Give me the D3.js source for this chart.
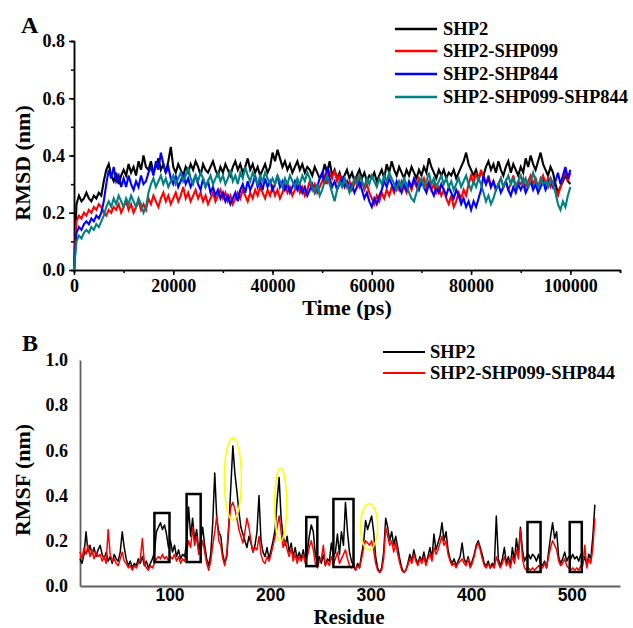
<!DOCTYPE html>
<html><head><meta charset="utf-8">
<script src="https://cdn.jsdelivr.net/npm/d3@7"></script>
<style>html,body{margin:0;padding:0;background:#fff}svg{display:block}</style>
</head><body>
<script>
// ---------- Panel A data: RMSD (nm) sampled every 500 ps ----------
const rmsdTimeStep = 500;
const rmsdSHP2 = [
0.00,0.23,0.26,0.24,0.25,0.27,0.25,0.24,0.26,0.25,0.27,0.26,0.31,0.35,0.37,0.33,0.31,0.34,0.30,0.33,
0.35,0.33,0.37,0.34,0.36,0.33,0.38,0.35,0.40,0.36,0.35,0.38,0.34,0.36,0.39,0.35,0.37,0.34,0.38,0.43,
0.36,0.34,0.37,0.35,0.33,0.36,0.34,0.37,0.35,0.38,0.36,0.33,0.37,0.35,0.34,0.36,0.38,0.35,0.33,0.36,
0.34,0.37,0.35,0.33,0.36,0.38,0.35,0.37,0.34,0.36,0.39,0.35,0.37,0.34,0.36,0.33,0.35,0.37,0.34,0.36,
0.41,0.38,0.42,0.39,0.36,0.38,0.35,0.37,0.34,0.36,0.38,0.35,0.37,0.34,0.36,0.35,0.33,0.36,0.34,0.32,
0.33,0.37,0.34,0.38,0.33,0.35,0.32,0.34,0.31,0.33,0.35,0.32,0.34,0.31,0.33,0.35,0.32,0.34,0.31,0.33,
0.32,0.34,0.31,0.33,0.35,0.32,0.37,0.34,0.38,0.35,0.33,0.36,0.34,0.32,0.35,0.33,0.36,0.34,0.32,0.35,
0.33,0.36,0.34,0.39,0.36,0.34,0.32,0.35,0.33,0.35,0.32,0.34,0.33,0.35,0.32,0.34,0.36,0.38,0.41,0.37,
0.35,0.33,0.35,0.32,0.34,0.33,0.36,0.38,0.35,0.37,0.34,0.38,0.35,0.33,0.36,0.38,0.34,0.37,0.35,0.33,
0.36,0.34,0.39,0.36,0.40,0.37,0.35,0.38,0.41,0.37,0.35,0.33,0.36,0.34,0.30,0.27,0.29,0.31,0.33,0.31,0.30];
const rmsdSHP099 = [
0.00,0.17,0.19,0.18,0.20,0.19,0.21,0.20,0.22,0.21,0.23,0.22,0.20,0.19,0.21,0.20,0.22,0.21,0.23,0.20,
0.22,0.24,0.21,0.23,0.20,0.22,0.24,0.21,0.23,0.21,0.25,0.23,0.26,0.24,0.22,0.25,0.27,0.24,0.26,0.23,
0.25,0.27,0.24,0.26,0.29,0.25,0.27,0.24,0.26,0.28,0.25,0.27,0.24,0.26,0.23,0.25,0.27,0.24,0.26,0.28,
0.25,0.27,0.24,0.26,0.23,0.25,0.27,0.25,0.28,0.26,0.24,0.27,0.25,0.28,0.26,0.29,0.27,0.25,0.28,0.26,
0.29,0.26,0.28,0.25,0.27,0.30,0.27,0.29,0.26,0.28,0.30,0.27,0.29,0.26,0.28,0.31,0.28,0.30,0.27,0.29,
0.31,0.33,0.30,0.34,0.32,0.35,0.31,0.33,0.30,0.32,0.29,0.31,0.28,0.30,0.32,0.29,0.31,0.28,0.30,0.27,
0.25,0.23,0.26,0.24,0.27,0.25,0.28,0.26,0.29,0.27,0.30,0.28,0.31,0.29,0.27,0.30,0.28,0.31,0.29,0.32,
0.30,0.32,0.29,0.31,0.28,0.30,0.27,0.29,0.26,0.28,0.25,0.23,0.26,0.22,0.24,0.27,0.25,0.28,0.26,0.30,
0.33,0.30,0.34,0.31,0.35,0.32,0.30,0.33,0.29,0.31,0.28,0.30,0.32,0.29,0.31,0.28,0.30,0.33,0.29,0.31,
0.30,0.32,0.29,0.31,0.33,0.30,0.32,0.29,0.31,0.33,0.30,0.32,0.29,0.31,0.28,0.26,0.29,0.32,0.35,0.31,0.34];
const rmsdSHP844 = [
0.00,0.13,0.15,0.14,0.16,0.17,0.16,0.18,0.17,0.19,0.18,0.20,0.24,0.30,0.35,0.32,0.36,0.31,0.33,0.29,
0.32,0.29,0.33,0.30,0.28,0.31,0.29,0.33,0.30,0.31,0.34,0.36,0.33,0.38,0.35,0.41,0.37,0.34,0.36,0.32,
0.30,0.33,0.29,0.31,0.34,0.30,0.32,0.29,0.31,0.33,0.30,0.28,0.32,0.29,0.31,0.27,0.29,0.26,0.28,0.25,
0.27,0.24,0.26,0.23,0.25,0.27,0.24,0.28,0.30,0.27,0.31,0.28,0.30,0.33,0.29,0.31,0.28,0.32,0.29,0.31,
0.28,0.30,0.33,0.29,0.31,0.28,0.30,0.27,0.29,0.31,0.28,0.30,0.27,0.29,0.26,0.28,0.30,0.27,0.29,0.32,
0.34,0.30,0.36,0.32,0.29,0.31,0.28,0.30,0.32,0.29,0.31,0.28,0.30,0.27,0.29,0.31,0.28,0.25,0.27,0.24,
0.22,0.25,0.23,0.26,0.28,0.31,0.29,0.32,0.30,0.28,0.31,0.29,0.27,0.30,0.28,0.31,0.29,0.32,0.30,0.28,
0.31,0.29,0.27,0.30,0.28,0.26,0.29,0.27,0.30,0.28,0.26,0.29,0.27,0.25,0.28,0.26,0.23,0.25,0.22,0.24,
0.21,0.24,0.22,0.25,0.28,0.33,0.30,0.32,0.29,0.31,0.28,0.30,0.27,0.29,0.31,0.28,0.26,0.29,0.27,0.30,
0.28,0.30,0.27,0.29,0.31,0.28,0.30,0.27,0.29,0.31,0.28,0.30,0.32,0.29,0.31,0.34,0.30,0.33,0.36,0.32,0.35];
const rmsdBoth = [
0.00,0.10,0.12,0.11,0.13,0.14,0.13,0.15,0.14,0.16,0.15,0.17,0.19,0.22,0.24,0.22,0.25,0.23,0.26,0.24,
0.22,0.25,0.23,0.26,0.24,0.22,0.25,0.23,0.20,0.22,0.27,0.30,0.32,0.29,0.31,0.33,0.30,0.32,0.29,0.31,
0.33,0.30,0.32,0.34,0.31,0.33,0.36,0.32,0.30,0.33,0.31,0.34,0.32,0.29,0.31,0.33,0.30,0.32,0.34,0.31,
0.33,0.30,0.32,0.35,0.31,0.33,0.30,0.34,0.32,0.36,0.33,0.31,0.34,0.32,0.30,0.33,0.31,0.34,0.32,0.30,
0.32,0.30,0.33,0.31,0.29,0.32,0.30,0.33,0.31,0.29,0.32,0.30,0.33,0.31,0.34,0.32,0.29,0.27,0.30,0.26,
0.28,0.31,0.33,0.30,0.27,0.24,0.28,0.31,0.29,0.32,0.30,0.27,0.29,0.32,0.30,0.33,0.31,0.29,0.32,0.30,
0.33,0.31,0.29,0.32,0.30,0.33,0.31,0.34,0.32,0.30,0.28,0.31,0.29,0.32,0.30,0.27,0.25,0.24,0.27,0.30,
0.32,0.29,0.31,0.34,0.30,0.32,0.29,0.31,0.33,0.30,0.32,0.29,0.31,0.28,0.30,0.32,0.29,0.31,0.33,0.30,
0.28,0.31,0.29,0.32,0.30,0.27,0.24,0.26,0.23,0.25,0.28,0.30,0.32,0.29,0.31,0.33,0.30,0.32,0.29,0.31,
0.33,0.30,0.32,0.29,0.31,0.34,0.31,0.29,0.32,0.30,0.31,0.29,0.32,0.30,0.27,0.23,0.21,0.24,0.22,0.26,0.29];
const rmsdNames = ["SHP2","SHP2-SHP099","SHP2-SHP844","SHP2-SHP099-SHP844"];
const rmsdColors = ["#000000","#ff0000","#0000ff","#008080"];
const xTicksA = [0,20000,40000,60000,80000,100000];
const yTicksA = [0,0.2,0.4,0.6,0.8];

// ---------- Panel B data: RMSF (nm), every 2nd residue from 11 ----------
const rmsfStartResidue = 11, rmsfResidueStep = 2;
const rmsfSHP2 = [
0.12,0.10,0.14,0.24,0.15,0.18,0.14,0.17,0.13,0.16,
0.18,0.14,0.12,0.15,0.11,0.13,0.10,0.14,0.12,0.11,
0.15,0.24,0.17,0.12,0.09,0.11,0.08,0.10,0.09,0.12,
0.10,0.13,0.09,0.11,0.08,0.10,0.12,0.15,0.24,0.26,
0.28,0.25,0.27,0.23,0.17,0.20,0.15,0.18,0.13,0.16,
0.12,0.14,0.13,0.19,0.35,0.22,0.30,0.20,0.25,0.16,
0.20,0.26,0.18,0.12,0.09,0.14,0.28,0.50,0.30,0.24,
0.22,0.14,0.10,0.13,0.26,0.44,0.62,0.50,0.42,0.33,
0.26,0.23,0.20,0.17,0.22,0.19,0.15,0.18,0.24,0.40,
0.20,0.15,0.13,0.17,0.12,0.16,0.20,0.25,0.38,0.48,
0.30,0.22,0.18,0.22,0.15,0.19,0.13,0.17,0.12,0.15,
0.12,0.16,0.11,0.15,0.22,0.27,0.24,0.14,0.10,0.13,
0.10,0.14,0.09,0.12,0.11,0.19,0.13,0.15,0.23,0.14,
0.24,0.18,0.37,0.24,0.15,0.11,0.09,0.07,0.10,0.08,
0.14,0.19,0.29,0.25,0.28,0.31,0.24,0.13,0.08,0.06,
0.08,0.15,0.30,0.26,0.20,0.24,0.18,0.22,0.17,0.12,
0.08,0.06,0.07,0.10,0.14,0.11,0.16,0.12,0.10,0.13,
0.11,0.15,0.10,0.13,0.17,0.12,0.23,0.16,0.19,0.22,
0.28,0.20,0.24,0.16,0.12,0.10,0.12,0.09,0.11,0.13,
0.19,0.12,0.10,0.13,0.09,0.11,0.14,0.18,0.20,0.17,
0.14,0.10,0.09,0.11,0.08,0.10,0.09,0.31,0.12,0.09,
0.12,0.17,0.10,0.13,0.09,0.17,0.11,0.21,0.14,0.26,
0.16,0.11,0.13,0.14,0.12,0.14,0.13,0.11,0.14,0.10,
0.09,0.11,0.08,0.15,0.22,0.28,0.21,0.24,0.13,0.10,
0.12,0.15,0.11,0.13,0.12,0.14,0.12,0.13,0.11,0.14,
0.10,0.13,0.09,0.14,0.12,0.22,0.36];
const rmsfComplex = [
0.15,0.12,0.17,0.14,0.18,0.13,0.16,0.12,0.15,0.13,
0.14,0.11,0.13,0.10,0.25,0.14,0.11,0.12,0.10,0.09,
0.12,0.15,0.11,0.10,0.08,0.09,0.07,0.09,0.08,0.10,
0.12,0.21,0.10,0.08,0.07,0.09,0.08,0.10,0.12,0.13,
0.12,0.14,0.12,0.13,0.11,0.13,0.12,0.14,0.11,0.13,
0.10,0.12,0.11,0.15,0.20,0.17,0.26,0.18,0.22,0.14,
0.16,0.20,0.15,0.10,0.07,0.11,0.18,0.24,0.31,0.20,
0.18,0.12,0.09,0.15,0.28,0.35,0.37,0.34,0.30,0.25,
0.22,0.19,0.24,0.30,0.26,0.20,0.15,0.17,0.16,0.22,
0.14,0.11,0.10,0.13,0.11,0.14,0.18,0.22,0.26,0.31,
0.24,0.17,0.20,0.16,0.13,0.17,0.11,0.14,0.10,0.13,
0.11,0.14,0.10,0.13,0.17,0.20,0.16,0.10,0.08,0.11,
0.12,0.18,0.09,0.11,0.09,0.13,0.10,0.12,0.15,0.10,
0.12,0.14,0.16,0.12,0.09,0.08,0.10,0.07,0.09,0.08,
0.12,0.17,0.20,0.19,0.18,0.20,0.16,0.10,0.07,0.06,
0.07,0.12,0.26,0.22,0.18,0.20,0.15,0.19,0.14,0.10,
0.07,0.06,0.07,0.09,0.12,0.10,0.14,0.11,0.09,0.12,
0.10,0.13,0.09,0.12,0.14,0.11,0.17,0.14,0.16,0.19,
0.22,0.18,0.20,0.14,0.11,0.09,0.10,0.08,0.10,0.11,
0.12,0.10,0.09,0.12,0.08,0.10,0.13,0.17,0.19,0.16,
0.12,0.09,0.08,0.10,0.08,0.09,0.08,0.13,0.10,0.08,
0.10,0.13,0.09,0.11,0.08,0.13,0.10,0.16,0.12,0.25,
0.12,0.08,0.07,0.08,0.07,0.08,0.07,0.08,0.09,0.08,
0.08,0.10,0.08,0.13,0.17,0.20,0.18,0.16,0.11,0.09,
0.10,0.12,0.09,0.08,0.07,0.08,0.07,0.08,0.07,0.09,
0.09,0.18,0.08,0.12,0.10,0.17,0.30];
const rmsfNames = ["SHP2","SHP2-SHP099-SHP844"];
const rmsfColors = ["#000000","#ff0000"];
const xTicksB = [100,200,300,400,500];
const yTicksB = [0,0.2,0.4,0.6,0.8,1.0];
// annotation boxes: [residueFrom, residueTo, rmsfLow, rmsfHigh]
const boxRegions = [[85,100,0.106,0.323],[117,131,0.106,0.407],[236,247,0.088,0.305],
                    [263,283,0.084,0.385],[456,469,0.062,0.283],[498,510,0.062,0.283]];
// annotation ellipses: [centerResidue, centerRmsf, halfWidthResidues, halfHeightRmsf]
const ellipseRegions = [[163,0.473,8.5,0.182],[210.5,0.36,6,0.162],[298.5,0.262,8.5,0.102]];

// ---------- drawing ----------
const W = 633, H = 628;
const serif = "'Times New Roman','Liberation Serif',serif";
const sans = "Arial,'Liberation Sans',sans-serif";
const svg = d3.select("body").append("svg").attr("width", W).attr("height", H);

// Panel A
const xA = d3.scaleLinear().domain([0, 110000]).range([74, 620]);
const yA = d3.scaleLinear().domain([0, 0.8]).range([270, 41]);
const gA = svg.append("g");

const minorX = gA.append("g").attr("transform", `translate(0,${yA(0)})`)
  .call(d3.axisBottom(xA).tickValues(d3.range(0, 110001, 10000)).tickSize(3).tickFormat(""));
const minorY = gA.append("g").attr("transform", `translate(${xA(0)},0)`)
  .call(d3.axisLeft(yA).tickValues(d3.range(0, 0.81, 0.1)).tickSize(3).tickFormat(""));
const axXA = gA.append("g").attr("transform", `translate(0,${yA(0)})`)
  .call(d3.axisBottom(xA).tickValues(xTicksA).tickSize(5).tickSizeOuter(0).tickPadding(4).tickFormat(d3.format("d")));
const axYA = gA.append("g").attr("transform", `translate(${xA(0)},0)`)
  .call(d3.axisLeft(yA).tickValues(yTicksA).tickSize(5).tickSizeOuter(0).tickPadding(4).tickFormat(d3.format(".1f")));
[minorX, minorY, axXA, axYA].forEach(a => {
  a.selectAll("path,line").attr("stroke", "#000").attr("stroke-width", 1.5);
  a.selectAll("text").attr("fill", "#000").style("font-family", serif).style("font-weight", "bold").style("font-size", "18px");
});

const seriesA = [rmsdSHP2, rmsdSHP099, rmsdSHP844, rmsdBoth];
const lineA = d3.line().x((d, i) => xA(i * rmsdTimeStep)).y(d => yA(d));
seriesA.forEach((s, k) => {
  gA.append("path").datum(s).attr("d", lineA).attr("fill", "none")
    .attr("stroke", rmsdColors[k]).attr("stroke-width", 2.1).attr("stroke-linejoin", "miter");
});

gA.append("text").attr("x", 21).attr("y", 33).text("A")
  .style("font-family", serif).style("font-weight", "bold").style("font-size", "24px");
gA.append("text").attr("x", 347).attr("y", 315).attr("text-anchor", "middle").text("Time (ps)")
  .style("font-family", serif).style("font-weight", "bold").style("font-size", "22px");
gA.append("text").attr("transform", "translate(30,163) rotate(-90)").attr("text-anchor", "middle").text("RMSD (nm)")
  .style("font-family", serif).style("font-weight", "bold").style("font-size", "22px");

const legA = gA.append("g");
const legRowsA = [29, 51, 74, 97];
rmsdNames.forEach((n, k) => {
  legA.append("line").attr("x1", 395).attr("x2", 437).attr("y1", legRowsA[k]).attr("y2", legRowsA[k])
    .attr("stroke", rmsdColors[k]).attr("stroke-width", 2.5);
  legA.append("text").attr("x", 443).attr("y", legRowsA[k]).attr("dy", "0.35em").text(n)
    .style("font-family", serif).style("font-weight", "bold").style("font-size", "18.5px");
});

// Panel B
const xB = d3.scaleLinear().domain([11, 548]).range([80, 620]);
const yB = d3.scaleLinear().domain([0, 1.0]).range([586, 360]);
const gB = svg.append("g");

const axXB = gB.append("g").attr("transform", `translate(0,${yB(0)})`)
  .call(d3.axisBottom(xB).tickValues(xTicksB).tickSize(0).tickSizeOuter(0).tickPadding(3).tickFormat(d3.format("d")));
axXB.selectAll("text").style("font-family", sans).style("font-weight", "bold").style("font-size", "17.5px").attr("fill", "#000");
const axYB = gB.append("g").attr("transform", `translate(${xB(11)},0)`)
  .call(d3.axisLeft(yB).tickValues(yTicksB).tickSize(0).tickSizeOuter(0).tickPadding(12).tickFormat(d3.format(".1f")));
axYB.selectAll("text").style("font-family", serif).style("font-weight", "bold").style("font-size", "18px").attr("fill", "#000");
[axXB, axYB].forEach(a => a.select(".domain").attr("stroke", "#606060").attr("stroke-width", 1.8));

const seriesB = [rmsfSHP2, rmsfComplex];
const lineB = d3.line().x((d, i) => xB(rmsfStartResidue + i * rmsfResidueStep)).y(d => yB(d));
seriesB.forEach((s, k) => {
  gB.append("path").datum(s).attr("d", lineB).attr("fill", "none")
    .attr("stroke", rmsfColors[k]).attr("stroke-width", 1.5).attr("stroke-linejoin", "round");
});

gB.selectAll("rect.box").data(boxRegions).enter().append("rect").attr("class", "box")
  .attr("x", d => xB(d[0])).attr("width", d => xB(d[1]) - xB(d[0]))
  .attr("y", d => yB(d[3])).attr("height", d => yB(d[2]) - yB(d[3]))
  .attr("fill", "none").attr("stroke", "#000").attr("stroke-width", 2.5);

gB.selectAll("ellipse.ring").data(ellipseRegions).enter().append("ellipse").attr("class", "ring")
  .attr("cx", d => xB(d[0])).attr("cy", d => yB(d[1]))
  .attr("rx", d => xB(d[0] + d[2]) - xB(d[0])).attr("ry", d => yB(0) - yB(d[3]))
  .attr("fill", "none").attr("stroke", "#ffff00").attr("stroke-width", 1.6);

gB.append("text").attr("x", 22).attr("y", 351).text("B")
  .style("font-family", serif).style("font-weight", "bold").style("font-size", "24px");
gB.append("text").attr("x", 349).attr("y", 624).attr("text-anchor", "middle").text("Residue")
  .style("font-family", serif).style("font-weight", "bold").style("font-size", "21px");
gB.append("text").attr("transform", "translate(30,480) rotate(-90)").attr("text-anchor", "middle").text("RMSF (nm)")
  .style("font-family", serif).style("font-weight", "bold").style("font-size", "22px");

const legRowsB = [352, 373];
rmsfNames.forEach((n, k) => {
  gB.append("line").attr("x1", 383).attr("x2", 425).attr("y1", legRowsB[k]).attr("y2", legRowsB[k])
    .attr("stroke", rmsfColors[k]).attr("stroke-width", 2);
  gB.append("text").attr("x", 430).attr("y", legRowsB[k]).attr("dy", "0.35em").text(n)
    .style("font-family", serif).style("font-weight", "bold").style("font-size", "18.5px");
});
</script>
</body></html>
